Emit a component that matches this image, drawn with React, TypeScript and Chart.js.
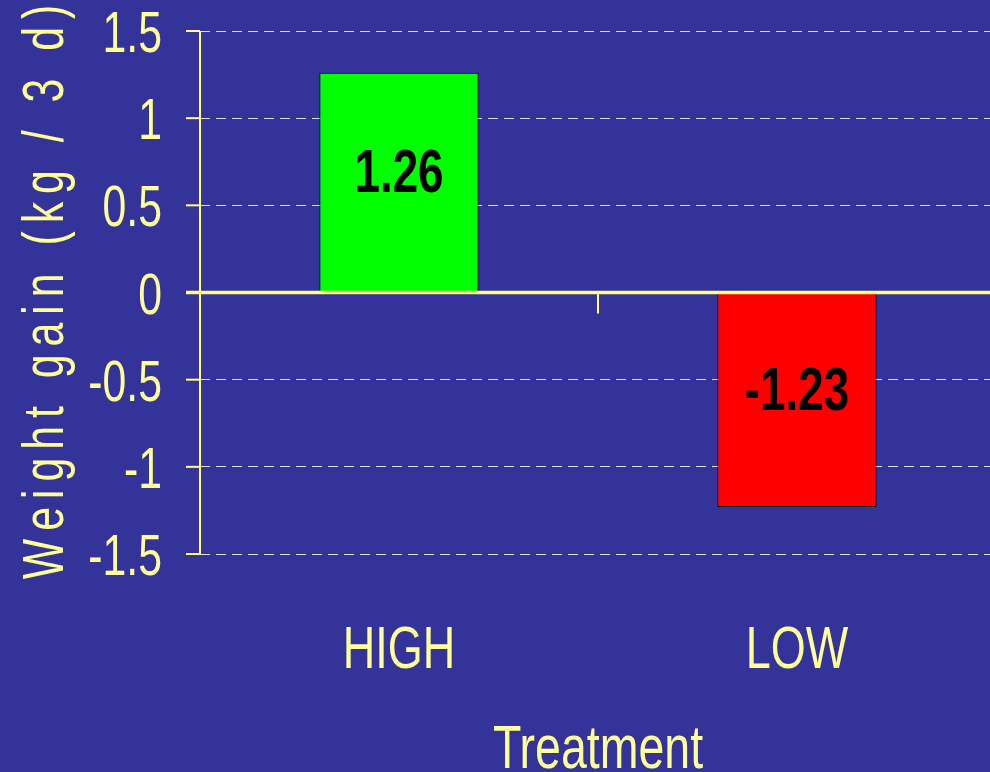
import React, { useEffect, useRef } from "react";
import { Chart, registerables } from "chart.js";

Chart.register(...registerables);

const categories = ["HIGH", "LOW"];
const weightGain = [1.26, -1.23];
const barColors = ["#00ff00", "#ff0000"];
const yTicks = [1.5, 1, 0.5, 0, -0.5, -1, -1.5];
const yTickLabels = ["1.5", "1", "0.5", "0", "-0.5", "-1", "-1.5"];
const xTitle = "Treatment";
const yTitle = "Weight gain (kg / 3 d)";

const BG = "#333399";
const YELLOW = "#ffff99";
const LINE_YELLOW = "#ffff80";
const FAMILY = "'Liberation Sans', Arial, sans-serif";
const NARROW = 0.75;

function narrowText(
  ctx: CanvasRenderingContext2D,
  text: string,
  x: number,
  y: number,
  font: string,
  color: string,
  align: CanvasTextAlign
) {
  ctx.save();
  ctx.translate(x, y);
  ctx.scale(NARROW, 1);
  ctx.font = font;
  ctx.fillStyle = color;
  ctx.textAlign = align;
  ctx.textBaseline = "alphabetic";
  ctx.fillText(text, 0, 0);
  ctx.restore();
}

const decorations = {
  id: "decorations",
  afterDatasetsDraw(chart: any) {
    const ctx: CanvasRenderingContext2D = chart.ctx;
    const { chartArea } = chart;
    const x = chart.scales.x;
    const y = chart.scales.y;
    const left = chartArea.left;
    const zeroY = y.getPixelForValue(0);

    ctx.save();
    ctx.strokeStyle = LINE_YELLOW;
    ctx.lineCap = "butt";

    // vertical axis line
    ctx.lineWidth = 2;
    ctx.beginPath();
    ctx.moveTo(left, y.getPixelForValue(yTicks[0]));
    ctx.lineTo(left, y.getPixelForValue(yTicks[yTicks.length - 1]));
    ctx.stroke();

    // tick marks on the value axis
    yTicks.forEach((v) => {
      const py = y.getPixelForValue(v);
      ctx.beginPath();
      ctx.moveTo(left - 14, py);
      ctx.lineTo(left, py);
      ctx.stroke();
    });

    // zero baseline
    ctx.lineWidth = 3.5;
    ctx.beginPath();
    ctx.moveTo(left - 14, zeroY);
    ctx.lineTo(chart.width, zeroY);
    ctx.stroke();

    // category divider tick below the baseline
    ctx.lineWidth = 2;
    for (let i = 0; i < categories.length - 1; i++) {
      const mx = (x.getPixelForValue(i) + x.getPixelForValue(i + 1)) / 2;
      ctx.beginPath();
      ctx.moveTo(mx, zeroY);
      ctx.lineTo(mx, zeroY + 21);
      ctx.stroke();
    }
    ctx.restore();

    // value-axis tick labels
    yTicks.forEach((v, i) => {
      narrowText(ctx, yTickLabels[i], left - 38, y.getPixelForValue(v) + 21, `57px ${FAMILY}`, YELLOW, "right");
    });

    // category labels
    categories.forEach((c, i) => {
      narrowText(ctx, c, x.getPixelForValue(i), 668, `60px ${FAMILY}`, YELLOW, "center");
    });

    // x axis title
    narrowText(ctx, xTitle, (chartArea.left + chartArea.right) / 2, 768, `62px ${FAMILY}`, YELLOW, "center");

    // y axis title, rotated and letter-spaced
    ctx.save();
    ctx.translate(63, 292);
    ctx.rotate(-Math.PI / 2);
    ctx.font = `57px ${FAMILY}`;
    ctx.fillStyle = YELLOW;
    ctx.textAlign = "left";
    ctx.textBaseline = "alphabetic";
    const spacing = 8;
    const chars = Array.from(yTitle);
    const widths = chars.map((ch) => ctx.measureText(ch).width * NARROW);
    const total = widths.reduce((a, b) => a + b, 0) + spacing * (chars.length - 1);
    let cx = -total / 2;
    chars.forEach((ch, i) => {
      ctx.save();
      ctx.translate(cx, 0);
      ctx.scale(NARROW, 1);
      ctx.fillText(ch, 0, 0);
      ctx.restore();
      cx += widths[i] + spacing;
    });
    ctx.restore();

    // value labels inside the bars
    const meta = chart.getDatasetMeta(0);
    meta.data.forEach((bar: any, i: number) => {
      const mid = (bar.y + bar.base) / 2;
      narrowText(ctx, weightGain[i].toFixed(2), bar.x, mid + 10, `bold 61px ${FAMILY}`, "#000000", "center");
    });
  },
};

export default function App() {
  const canvasRef = useRef<HTMLCanvasElement | null>(null);

  useEffect(() => {
    if (!canvasRef.current) return;
    const chart = new Chart(canvasRef.current, {
      type: "bar",
      data: {
        labels: categories,
        datasets: [
          {
            data: weightGain,
            backgroundColor: barColors,
            borderColor: "#000000",
            borderWidth: 1,
            borderSkipped: false,
            categoryPercentage: 0.4,
            barPercentage: 1,
          },
        ],
      },
      options: {
        responsive: false,
        animation: false,
        devicePixelRatio: 1,
        layout: { padding: { left: 200, top: 31, right: 4, bottom: 218 } },
        plugins: {
          legend: { display: false },
          tooltip: { enabled: false },
          title: { display: false },
        },
        scales: {
          x: {
            type: "category",
            offset: true,
            ticks: { display: false },
            grid: { display: false, drawTicks: false },
            border: { display: false },
          },
          y: {
            min: -1.5,
            max: 1.5,
            ticks: { display: false, stepSize: 0.5 },
            grid: {
              color: "rgba(255,255,255,0.85)",
              lineWidth: 1,
              drawTicks: false,
            },
            border: { display: false, dash: [10, 6] },
          },
        },
      },
      plugins: [decorations],
    });
    return () => chart.destroy();
  }, []);

  return (
    <div
      style={{
        position: "fixed",
        left: 0,
        top: 0,
        width: 990,
        height: 772,
        overflow: "hidden",
        background: BG,
      }}
    >
      <canvas ref={canvasRef} width={1000} height={772} style={{ width: 1000, height: 772, display: "block" }} />
    </div>
  );
}
